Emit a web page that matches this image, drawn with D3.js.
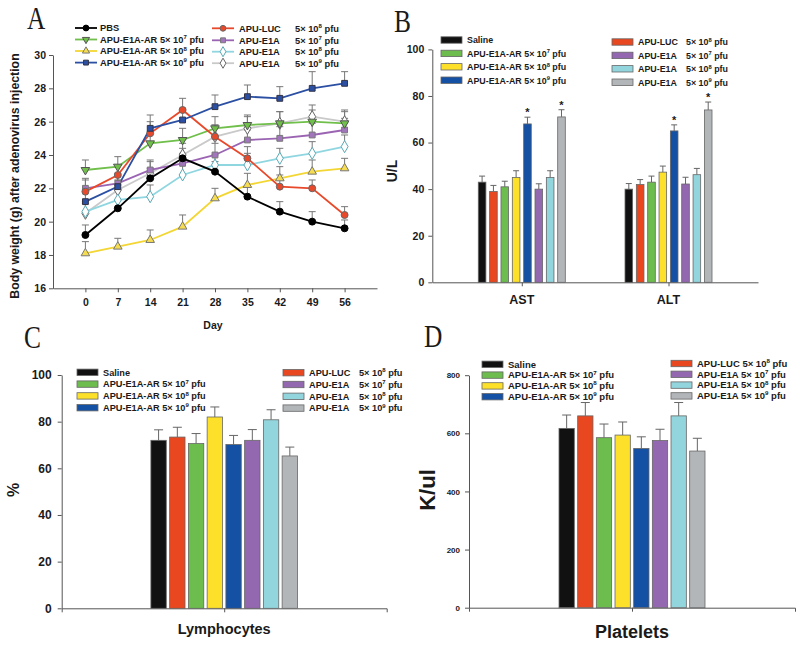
<!DOCTYPE html>
<html><head><meta charset="utf-8">
<script src="https://cdn.jsdelivr.net/npm/d3@7"></script>
<style>
body{margin:0;background:#fff}
svg text{font-family:"Liberation Sans",Arial,sans-serif;font-weight:bold;fill:#1a1a1a;white-space:pre}
.axis path,.axis line{stroke:#555;stroke-width:1}
.letter{font-family:"Liberation Serif","Times New Roman",serif !important;font-weight:normal !important}
</style>
</head><body>
<svg id="c" width="800" height="646"></svg>
<script>
// ---------- DATA ----------
// Panel A: body weight over time
const days = [0, 7, 14, 21, 28, 35, 42, 49, 56];
const yTicksA = [16, 18, 20, 22, 24, 26, 28, 30];
const pbs   = [19.2, 20.8, 22.6, 23.8, 23.0, 21.5, 20.6, 20.0, 19.6];
const ar7   = [23.1, 23.3, 24.7, 24.9, 25.6, 25.8, 25.9, 26.0, 25.9];
const ar8   = [18.1, 18.5, 18.9, 19.7, 21.4, 22.2, 22.6, 23.0, 23.2];
const ar9   = [21.2, 22.1, 25.6, 26.1, 26.9, 27.5, 27.4, 28.0, 28.3];
const luc   = [21.8, 22.8, 25.3, 26.7, 25.1, 23.8, 22.1, 22.0, 20.4];
const e1a7  = [22.0, 22.3, 23.1, 23.5, 24.0, 24.9, 25.0, 25.2, 25.5];
const e1a8  = [20.6, 21.3, 21.5, 22.8, 23.4, 23.4, 23.8, 24.1, 24.5];
const e1a9  = [20.5, 21.9, 22.9, 24.0, 25.1, 25.6, 25.9, 26.3, 26.0];
const pbsErr  = [0.6, 0.5, 0.6, 0.6, 0.6, 0.6, 0.6, 0.6, 0.5];
const ar7Err  = [0.6, 0.6, 0.7, 0.7, 0.7, 0.6, 0.7, 0.7, 0.7];
const ar8Err  = [0.7, 0.5, 0.6, 0.7, 0.6, 0.7, 0.7, 0.7, 0.6];
const ar9Err  = [0.7, 0.6, 0.8, 0.7, 0.7, 0.7, 0.7, 1.0, 0.7];
const lucErr  = [0.7, 0.6, 0.7, 0.7, 0.7, 0.7, 0.7, 0.5, 0.5];
const e1a7Err = [0.6, 0.6, 0.6, 0.6, 0.7, 0.6, 0.7, 0.7, 0.7];
const e1a8Err = [0.6, 0.6, 0.7, 0.7, 0.6, 0.7, 0.6, 0.7, 0.7];
const e1a9Err = [0.6, 0.6, 0.7, 0.7, 0.7, 0.7, 0.7, 0.7, 0.7];
const legendLeftA  = ["PBS", "APU-E1A-AR 5× 10^7 pfu", "APU-E1A-AR 5× 10^8 pfu", "APU-E1A-AR 5× 10^9 pfu"];
const legendRightA = ["APU-LUC", "APU-E1A", "APU-E1A", "APU-E1A"];
const legendDoseA  = ["5× 10^8 pfu", "5× 10^7 pfu", "5× 10^8 pfu", "5× 10^9 pfu"];

// Bar panels: groups in bar order
const groups = ["Saline", "APU-LUC", "AR 5e7", "AR 5e8", "AR 5e9", "E1A 5e7", "E1A 5e8", "E1A 5e9"];
const catsB = ["AST", "ALT"];
const astVals = [43, 39, 41, 45, 68, 40, 45, 71];
const astErr  = [2.6, 2.6, 2.4, 2.9, 2.9, 2.3, 2.9, 3.1];
const altVals = [40, 42, 43, 47.3, 65, 42.2, 46.2, 74];
const altErr  = [2.4, 2.1, 2.6, 2.6, 2.6, 2.9, 2.7, 3.4];
const sigB = [[4, 7], [4, 7]];
const yTicksB = [0, 20, 40, 60, 80, 100];
const catsC = ["Lymphocytes"];
const lymVals = [72, 73.4, 70.6, 82, 70.2, 72, 80.8, 65.3];
const lymErr  = [4.5, 4.2, 4.3, 4.3, 3.9, 4.6, 4.3, 3.8];
const yTicksC = [0, 20, 40, 60, 80, 100];
const catsD = ["Platelets"];
const pltVals = [617, 660, 585, 594, 548, 575, 660, 539];
const pltErr  = [46, 46, 47, 45, 40, 39, 46, 44];
const yTicksD = [0, 200, 400, 600, 800];
const legLeftBar   = ["Saline", "APU-E1A-AR 5× 10^7 pfu", "APU-E1A-AR 5× 10^8 pfu", "APU-E1A-AR 5× 10^9 pfu"];
const legRightName = ["APU-LUC", "APU-E1A", "APU-E1A", "APU-E1A"];
const legRightDose = ["5× 10^8 pfu", "5× 10^7 pfu", "5× 10^8 pfu", "5× 10^9 pfu"];
const legRightD    = ["APU-LUC 5× 10^8 pfu", "APU-E1A 5× 10^7 pfu", "APU-E1A 5× 10^8 pfu", "APU-E1A 5× 10^9 pfu"];

// ---------- STYLE ----------
const barColors = ["#111111", "#e8471f", "#6cbd4d", "#fde02a", "#1450a3", "#9468b0", "#93d5dd", "#b3b6b9"];
const leftIdx = [0, 2, 3, 4], rightIdx = [1, 5, 6, 7];

const svg = d3.select("#c");

function richText(sel, str, fs) {
  const parts = str.split("^");
  sel.append("tspan").text(parts[0]);
  if (parts.length > 1) {
    sel.append("tspan").attr("font-size", fs * 0.65).attr("dy", -fs * 0.4).text(parts[1][0]);
    sel.append("tspan").attr("dy", fs * 0.4).text(parts[1].slice(1));
  }
}
function letter(t, x, y) {
  svg.append("text").attr("class", "letter").attr("transform", `translate(${x},${y}) scale(0.82,1)`)
    .attr("font-size", 31).text(t);
}

// ---------- PANEL A ----------
letter("A", 27, 29);
const xA = d3.scaleLinear().domain([-7, 63]).range([53, 377]);
const yA = d3.scaleLinear().domain([16, 30]).range([288.3, 55]);
const gA = svg.append("g");
gA.append("g").attr("class", "axis").attr("transform", "translate(53,0)")
  .call(d3.axisLeft(yA).tickValues(yTicksA).tickSize(4).tickSizeOuter(0).tickPadding(3))
  .call(g => g.selectAll("text").attr("font-size", 10.5));
gA.append("g").attr("class", "axis").attr("transform", "translate(0,288.3)")
  .call(d3.axisBottom(xA).tickValues(days).tickSize(4).tickSizeOuter(0).tickPadding(6))
  .call(g => g.selectAll("text").attr("font-size", 10.5));
gA.append("text").attr("x", 213).attr("y", 329).attr("text-anchor", "middle").attr("font-size", 10.5).text("Day");
gA.append("text").attr("transform", "translate(19,176) rotate(-90)").attr("text-anchor", "middle")
  .attr("font-size", 12.3).text("Body weight (g) after adenovirus injection");

const seriesA = [
  {vals: e1a9, err: e1a9Err, line: "#c9c9c9", sym: d3.symbolDiamond, fill: "#ffffff", stroke: "#666", size: 42},
  {vals: e1a8, err: e1a8Err, line: "#8fd6e0", sym: d3.symbolDiamond, fill: "#ffffff", stroke: "#5aa9b5", size: 42},
  {vals: e1a7, err: e1a7Err, line: "#9a64b3", sym: d3.symbolSquare, fill: "#a276bd", stroke: "#777", size: 34},
  {vals: ar8, err: ar8Err, line: "#f3d633", sym: d3.symbolTriangle, fill: "#f6dc50", stroke: "#777", size: 32},
  {vals: ar7, err: ar7Err, line: "#6fbf4a", sym: d3.symbolTriangle, fill: "#6fbf4a", stroke: "#555", size: 32, rot: 180},
  {vals: luc, err: lucErr, line: "#e8492a", sym: d3.symbolCircle, fill: "#e8492a", stroke: "#666", size: 38},
  {vals: ar9, err: ar9Err, line: "#2b4fa3", sym: d3.symbolSquare, fill: "#2b4fa3", stroke: "#334", size: 34},
  {vals: pbs, err: pbsErr, line: "#000000", sym: d3.symbolCircle, fill: "#000000", stroke: "#000", size: 38}
];
const lineGen = d3.line().x((d, i) => xA(days[i])).y(d => yA(d));
seriesA.forEach(s => {
  const g = gA.append("g");
  s.vals.forEach((v, i) => {
    const x = xA(days[i]), y0 = yA(v), y1 = yA(v + s.err[i]);
    g.append("line").attr("x1", x).attr("x2", x).attr("y1", y0).attr("y2", y1).attr("stroke", "#777").attr("stroke-width", 1);
    g.append("line").attr("x1", x - 3.5).attr("x2", x + 3.5).attr("y1", y1).attr("y2", y1).attr("stroke", "#777").attr("stroke-width", 1);
  });
});
seriesA.forEach(s => {
  gA.append("path").datum(s.vals).attr("d", lineGen).attr("fill", "none").attr("stroke", s.line).attr("stroke-width", 1.8);
});
seriesA.forEach(s => {
  gA.selectAll(null).data(s.vals).enter().append("path")
    .attr("d", d3.symbol().type(s.sym).size(s.size))
    .attr("transform", (d, i) => `translate(${xA(days[i])},${yA(d)}) rotate(${s.rot || 0})`)
    .attr("fill", s.fill).attr("stroke", s.stroke).attr("stroke-width", 1);
});
// legend A
const legStyleL = [seriesA[7], seriesA[4], seriesA[3], seriesA[6]];
const legStyleR = [seriesA[5], seriesA[2], seriesA[1], seriesA[0]];
function legendA(items, styles, x0, ys) {
  items.forEach((t, i) => {
    const s = styles[i], y = ys[i];
    gA.append("line").attr("x1", x0).attr("x2", x0 + 22).attr("y1", y).attr("y2", y).attr("stroke", s.line).attr("stroke-width", 1.8);
    gA.append("path").attr("d", d3.symbol().type(s.sym).size(s.size * 0.7)())
      .attr("transform", `translate(${x0 + 11},${y}) rotate(${s.rot || 0})`)
      .attr("fill", s.fill).attr("stroke", s.stroke);
  });
}
const rowsAL = [28, 39.5, 51, 62.6], rowsAR = [28.3, 40.3, 51.7, 63.2];
const fsA = 9.3;
legendA(legendLeftA, legStyleL, 75, rowsAL);
legendA(legendRightA, legStyleR, 212, rowsAR);
legendLeftA.forEach((t, i) => richText(gA.append("text").attr("x", 100).attr("y", rowsAL[i] + 3.3).attr("font-size", fsA), t, fsA));
legendRightA.forEach((t, i) => richText(gA.append("text").attr("x", 239).attr("y", rowsAR[i] + 3.3).attr("font-size", fsA), t, fsA));
legendDoseA.forEach((t, i) => richText(gA.append("text").attr("x", 295).attr("y", rowsAR[i] + 3.3).attr("font-size", fsA), t, fsA));

// ---------- BAR PANEL HELPER ----------
function barPanel(o) {
  const g = svg.append("g");
  const x = d3.scalePoint().domain(o.cats).range(o.xRange).padding(o.pad);
  const y = d3.scaleLinear().domain(o.yDomain).range(o.yRange);
  const xi = d3.scaleBand().domain(groups).range([-o.half, o.half]).paddingInner(o.inner);
  g.append("g").attr("class", "axis").attr("transform", `translate(${o.xRange[0]},0)`)
    .call(d3.axisLeft(y).tickValues(o.yTicks).tickSize(4).tickSizeOuter(0).tickPadding(o.tpad || 4))
    .call(s => s.selectAll("text").attr("font-size", o.tfs));
  g.append("g").attr("class", "axis").attr("transform", `translate(0,${o.yRange[0]})`)
    .call(d3.axisBottom(x).tickSize(4).tickSizeOuter(o.outer || 0).tickFormat(""));
  o.cats.forEach((c, ci) => {
    const cx = x(c);
    o.vals[ci].forEach((v, i) => {
      const bx = cx + xi(groups[i]), bw = xi.bandwidth();
      const top = y(v + o.errs[ci][i]);
      g.append("line").attr("x1", bx + bw / 2).attr("x2", bx + bw / 2).attr("y1", y(v)).attr("y2", top).attr("stroke", "#666");
      g.append("line").attr("x1", bx + bw / 2 - o.cap).attr("x2", bx + bw / 2 + o.cap).attr("y1", top).attr("y2", top).attr("stroke", "#666");
      g.append("rect").attr("x", bx).attr("y", y(v)).attr("width", bw).attr("height", y(0) - y(v))
        .attr("fill", barColors[i]).attr("stroke", "#666").attr("stroke-width", 0.8);
      if (o.sig && o.sig[ci].includes(i)) {
        g.append("text").attr("x", bx + bw / 2).attr("y", top - 1).attr("text-anchor", "middle").attr("font-size", 11).text("*");
      }
    });
    g.append("text").attr("x", cx).attr("y", o.labY).attr("text-anchor", "middle").attr("font-size", o.lfs).text(c);
  });
  g.append("text").attr("transform", `translate(${o.yl[0]},${o.yl[1]}) rotate(-90)`).attr("text-anchor", "middle")
    .attr("font-size", o.ylfs).text(o.ylab);
  // legend
  const L = o.leg, fs = L.fs;
  leftIdx.forEach((gi, k) => {
    const yy = L.ly + k * L.step;
    g.append("rect").attr("x", L.lx).attr("y", yy - 3.2).attr("width", 21).attr("height", 6.4)
      .attr("fill", barColors[gi]).attr("stroke", "#666").attr("stroke-width", 0.8);
    richText(g.append("text").attr("x", L.lx + 26).attr("y", yy + 3.3).attr("font-size", fs), legLeftBar[k], fs);
  });
  rightIdx.forEach((gi, k) => {
    const yy = L.ry + k * L.step;
    g.append("rect").attr("x", L.rx).attr("y", yy - 3.2).attr("width", 21).attr("height", 6.4)
      .attr("fill", barColors[gi]).attr("stroke", "#666").attr("stroke-width", 0.8);
    if (o.legRight) {
      richText(g.append("text").attr("x", L.rx + 26).attr("y", yy + 3.3).attr("font-size", fs), o.legRight[k], fs);
    } else {
      richText(g.append("text").attr("x", L.rx + 26).attr("y", yy + 3.3).attr("font-size", fs), legRightName[k], fs);
      richText(g.append("text").attr("x", L.rx + 26 + L.doseOff).attr("y", yy + 3.3).attr("font-size", fs), legRightDose[k], fs);
    }
  });
}

// ---------- PANEL B ----------
letter("B", 394, 32);
barPanel({cats: catsB, vals: [astVals, altVals], errs: [astErr, altErr], sig: sigB,
  xRange: [432.3, 758], pad: 0.61, yDomain: [0, 100], yRange: [282.3, 49.4], yTicks: yTicksB, tfs: 10.5,
  half: 43.5, inner: 0.33, cap: 3, labY: 304, lfs: 12.5, yl: [397, 171], ylfs: 14, ylab: "U/L",
  leg: {lx: 441, ly: 40, rx: 612, ry: 42, step: 13.4, fs: 8.9, doseOff: 48}});

// ---------- PANEL C ----------
letter("C", 24, 348);
barPanel({cats: catsC, vals: [lymVals], errs: [lymErr],
  xRange: [61.7, 386.7], pad: 0.5, yDomain: [0, 100], yRange: [608.3, 375], yTicks: yTicksC, tfs: 12, tpad: 6,
  half: 73.3, inner: 0.18, cap: 4.5, labY: 634, lfs: 14.5, yl: [19, 490], ylfs: 16, ylab: "%", outer: 4,
  leg: {lx: 77, ly: 372.3, rx: 283, ry: 372.7, step: 11.8, fs: 9.2, doseOff: 50}});

// ---------- PANEL D ----------
letter("D", 424, 347);
barPanel({cats: catsD, vals: [pltVals], errs: [pltErr], legRight: legRightD,
  xRange: [469, 795], pad: 0.5, yDomain: [0, 800], yRange: [607.7, 375.2], yTicks: yTicksD, tfs: 8, tpad: 5,
  half: 73, inner: 0.18, cap: 4.5, labY: 638, lfs: 18, yl: [435, 490], ylfs: 22, ylab: "K/ul", outer: 4,
  leg: {lx: 482, ly: 364.3, rx: 671, ry: 363.5, step: 10.8, fs: 9.5}});
</script>
</body></html>
